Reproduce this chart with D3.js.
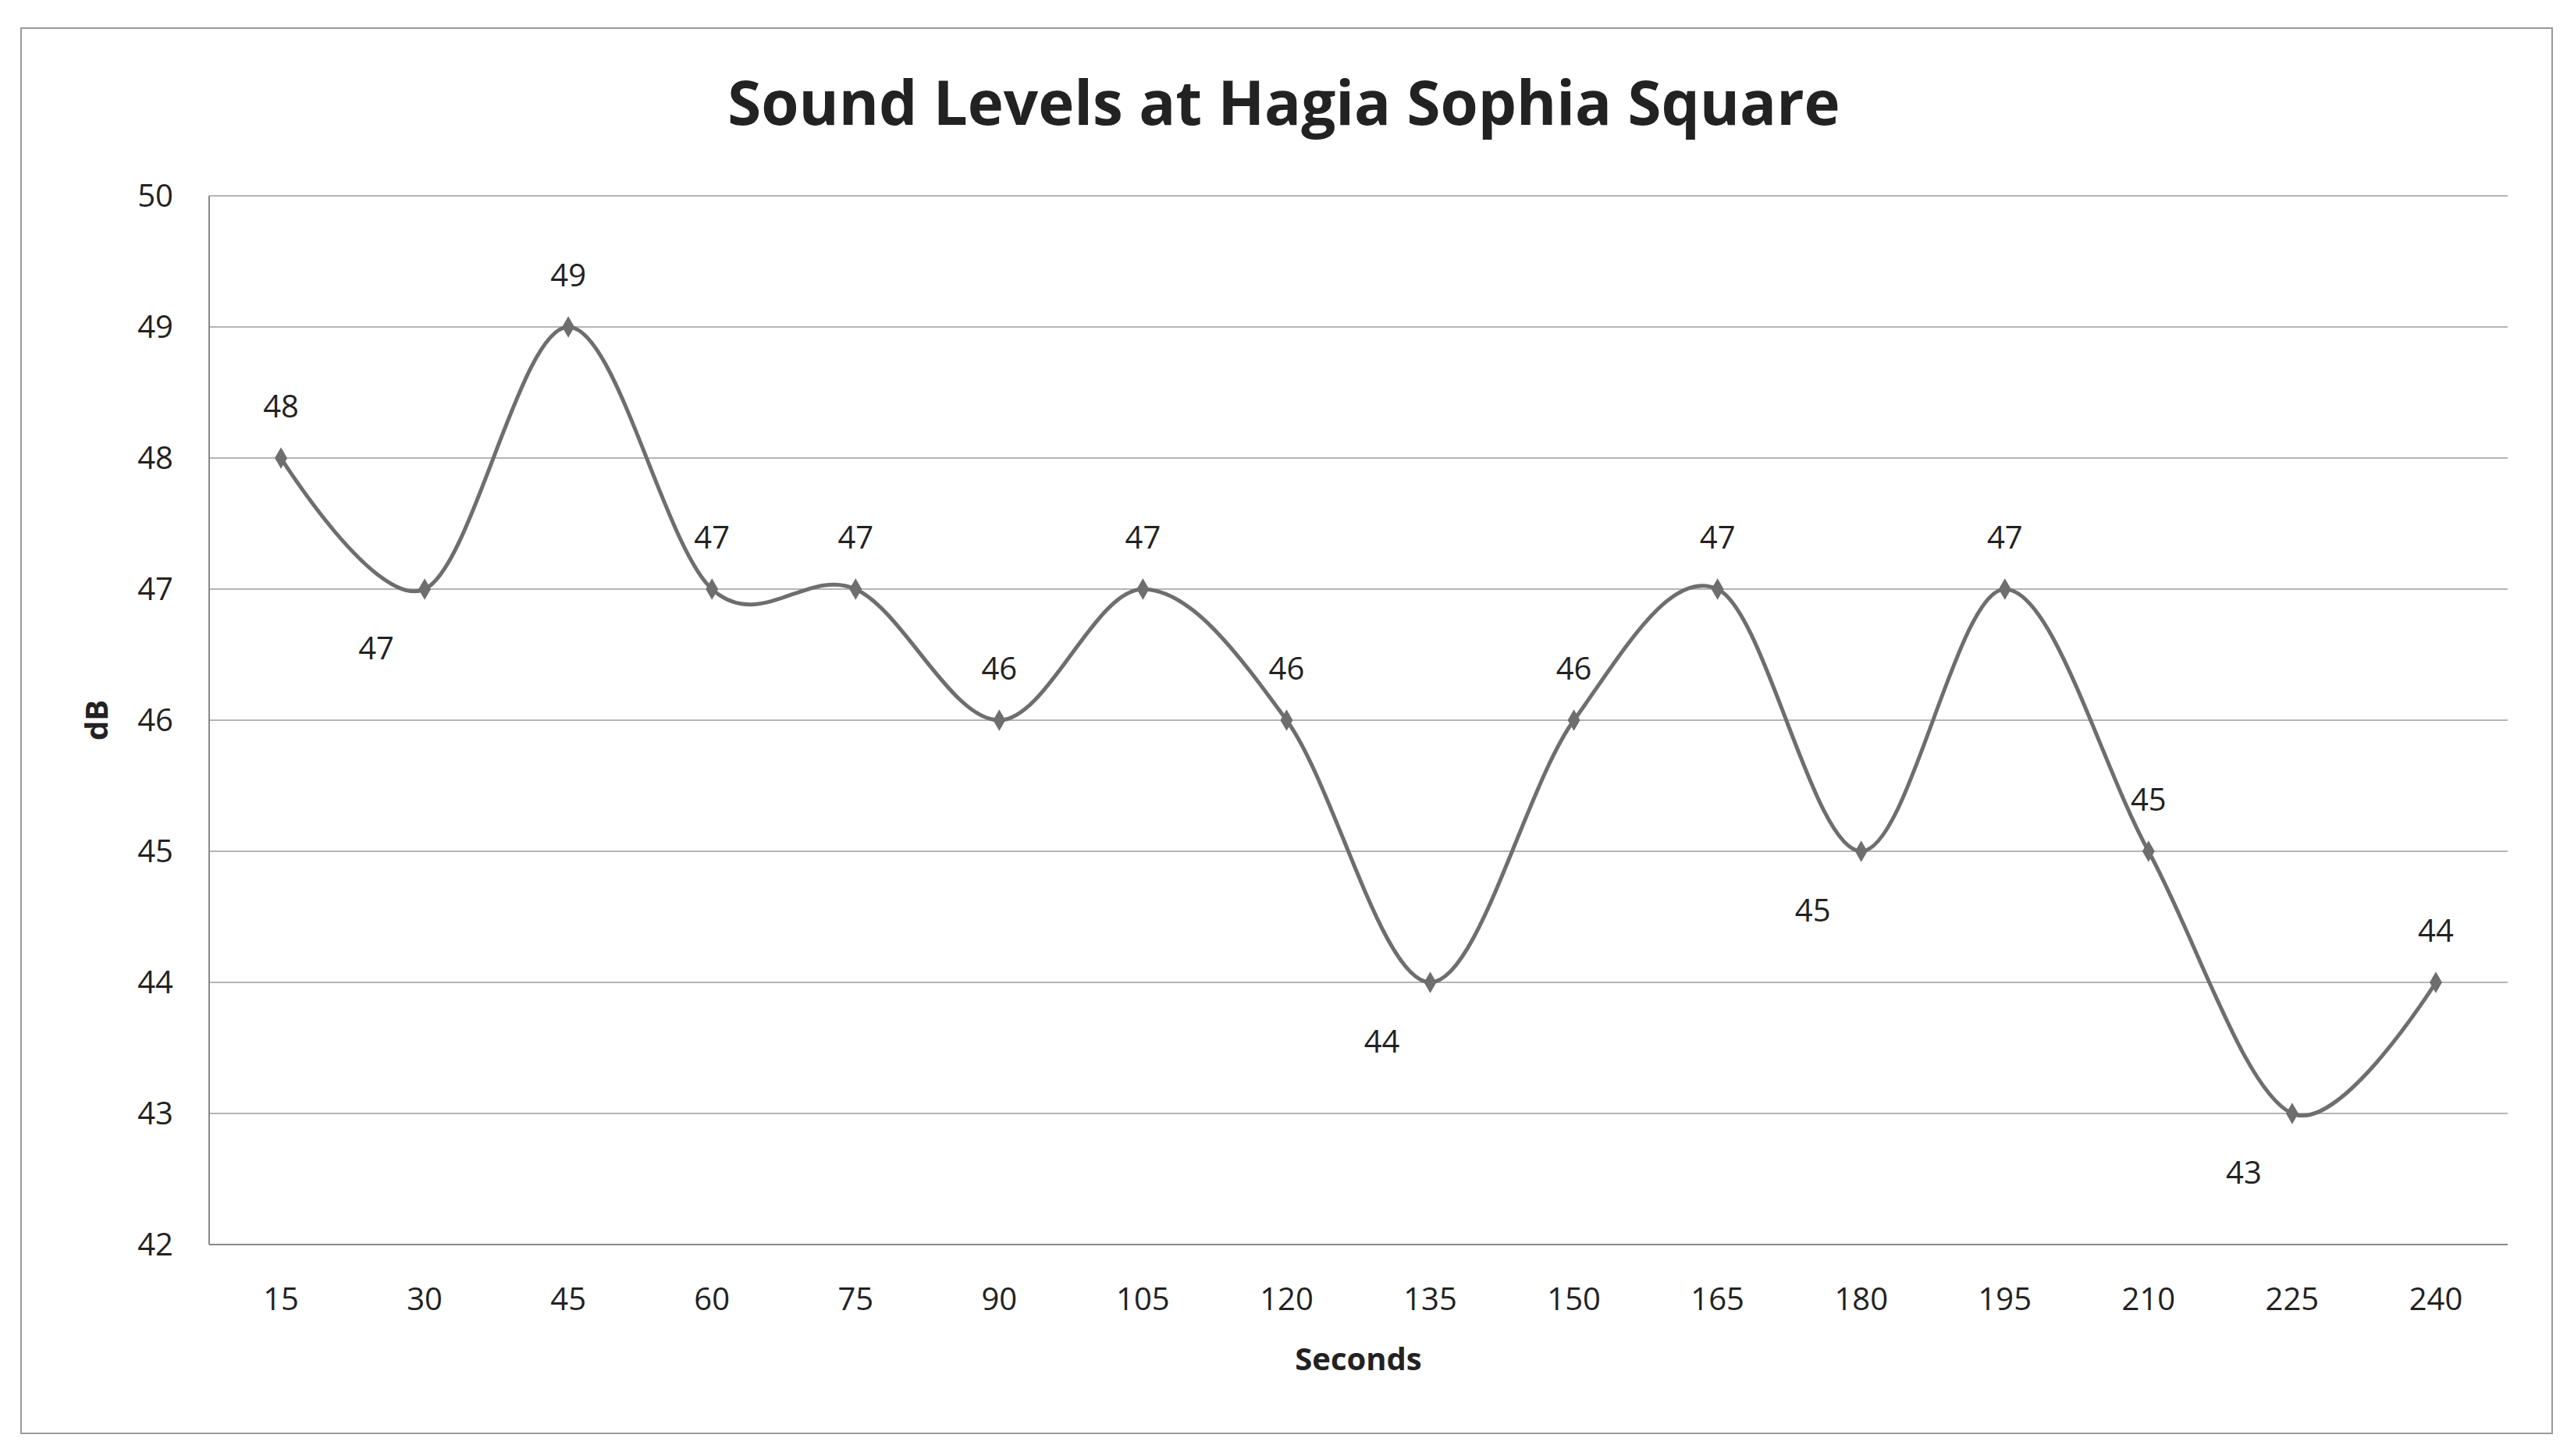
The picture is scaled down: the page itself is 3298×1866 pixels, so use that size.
<!DOCTYPE html>
<html>
<head>
<meta charset="utf-8">
<script src="https://cdn.jsdelivr.net/npm/d3@7"></script>
<style>
  body { margin: 0; background: #fff; }
  text { font-family: "Open Sans", "Noto Sans", sans-serif; fill: #222; }
</style>
</head>
<body>
<svg id="chart" width="3298" height="1866"></svg>
<script>
const seconds = [15, 30, 45, 60, 75, 90, 105, 120, 135, 150, 165, 180, 195, 210, 225, 240];
const decibels = [48, 47, 49, 47, 47, 46, 47, 46, 44, 46, 47, 45, 47, 45, 43, 44];
const labelSide = ["above", "below", "above", "above", "above", "above", "above", "above",
                   "below", "above", "above", "below", "above", "above", "below", "above"];
const yTicks = [42, 43, 44, 45, 46, 47, 48, 49, 50];

const width = 3298, height = 1866;
const margin = { left: 268, right: 85, top: 251, bottom: 271 };
const svg = d3.select("#chart");

svg.append("rect")
  .attr("x", 27).attr("y", 36).attr("width", 3243).attr("height", 1801)
  .attr("fill", "#fff").attr("stroke", "#9a9a9a").attr("stroke-width", 2);

const x = d3.scalePoint()
  .domain(seconds)
  .range([margin.left, width - margin.right])
  .padding(0.5);

const y = d3.scaleLinear()
  .domain([42, 50])
  .range([height - margin.bottom, margin.top]);

// grid lines
svg.append("g")
  .selectAll("line")
  .data(yTicks)
  .enter().append("line")
    .attr("x1", margin.left).attr("x2", width - margin.right)
    .attr("y1", d => y(d)).attr("y2", d => y(d))
    .attr("stroke", d => d === 42 ? "#888" : "#b5b5b5")
    .attr("stroke-width", 2);

// y axis
svg.append("line")
  .attr("x1", margin.left).attr("x2", margin.left)
  .attr("y1", y(50)).attr("y2", y(42))
  .attr("stroke", "#888").attr("stroke-width", 2);

svg.append("g")
  .selectAll("text")
  .data(yTicks)
  .enter().append("text")
    .attr("x", margin.left - 46)
    .attr("y", d => y(d))
    .attr("dy", "0.35em")
    .attr("text-anchor", "end")
    .attr("font-size", 40)
    .text(d => d);

svg.append("g")
  .selectAll("text")
  .data(seconds)
  .enter().append("text")
    .attr("x", d => x(d))
    .attr("y", height - margin.bottom + 84)
    .attr("text-anchor", "middle")
    .attr("font-size", 40)
    .text(d => d);

svg.append("text")
  .attr("x", (margin.left + width - margin.right) / 2)
  .attr("y", 1756)
  .attr("text-anchor", "middle")
  .attr("font-size", 40).attr("font-weight", "bold")
  .text("Seconds");

svg.append("text")
  .attr("transform", `translate(138, ${(y(50) + y(42)) / 2}) rotate(-90)`)
  .attr("text-anchor", "middle")
  .attr("font-size", 40).attr("font-weight", "bold")
  .text("dB");

svg.append("text")
  .attr("x", 1645).attr("y", 160)
  .attr("text-anchor", "middle")
  .attr("font-size", 78).attr("font-weight", "bold")
  .text("Sound Levels at Hagia Sophia Square");

const points = seconds.map((s, i) => ({ s, v: decibels[i], side: labelSide[i] }));

const line = d3.line()
  .x(d => x(d.s))
  .y(d => y(d.v))
  .curve(d3.curveCardinal.tension(0));

svg.append("path")
  .datum(points)
  .attr("d", line)
  .attr("fill", "none")
  .attr("stroke", "#6e6e6e")
  .attr("stroke-width", 5);

svg.append("g")
  .selectAll("path")
  .data(points)
  .enter().append("path")
    .attr("d", d3.symbol(d3.symbolDiamond, 220))
    .attr("transform", d => `translate(${x(d.s)},${y(d.v)})`)
    .attr("fill", "#6e6e6e");

svg.append("g")
  .selectAll("text")
  .data(points)
  .enter().append("text")
    .attr("x", d => x(d.s) + (d.side === "below" ? -62 : 0))
    .attr("y", d => y(d.v) + (d.side === "below" ? 90 : -52))
    .attr("text-anchor", "middle")
    .attr("font-size", 40)
    .text(d => d.v);
</script>
</body>
</html>
